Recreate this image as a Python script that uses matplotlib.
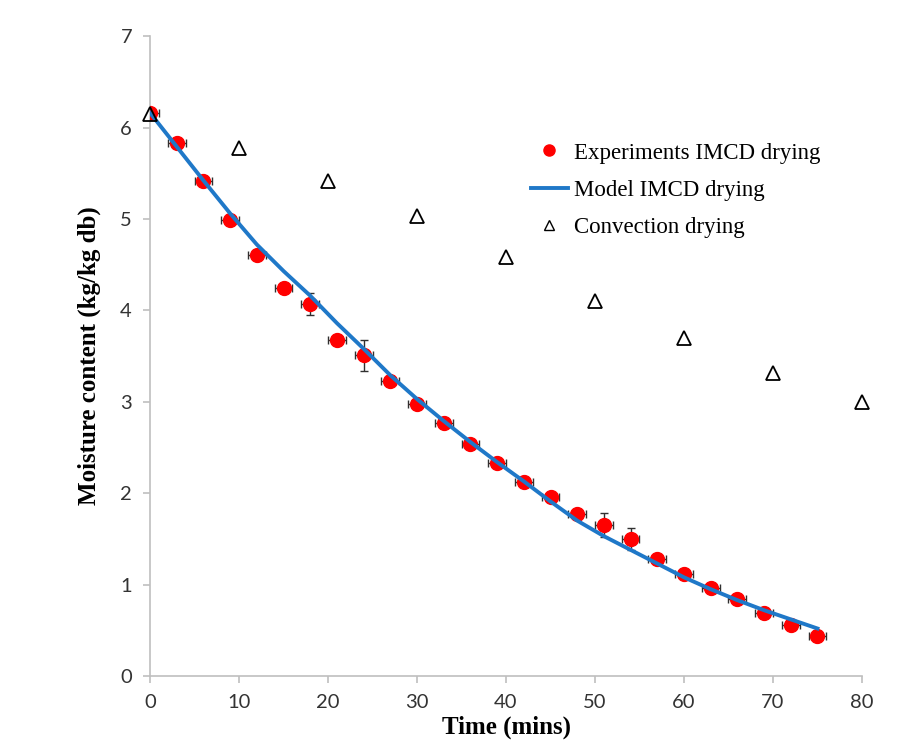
import numpy as np
import matplotlib
matplotlib.use("Agg")
import matplotlib.pyplot as plt
from matplotlib.lines import Line2D

# experiments (IMCD drying), every 3 min
t_exp = [0, 3, 6, 9, 12, 15, 18, 21, 24, 27, 30, 33, 36, 39, 42, 45, 48, 51, 54, 57, 60, 63, 66, 69, 72, 75]
mc_exp = [6.16, 5.83, 5.42, 4.99, 4.61, 4.25, 4.07, 3.68, 3.51, 3.23, 2.98, 2.77, 2.54, 2.33, 2.12, 1.96, 1.77,
          1.65, 1.50, 1.28, 1.12, 0.96, 0.84, 0.69, 0.56, 0.44]
yerr_exp = [0.03, 0.03, 0.03, 0.03, 0.03, 0.05, 0.12, 0.05, 0.17, 0.03, 0.03, 0.03, 0.04, 0.03, 0.03, 0.03, 0.03,
            0.13, 0.12, 0.03, 0.03, 0.03, 0.03, 0.03, 0.03, 0.03]
xerr_exp = [1.0] * len(t_exp)

# model curve
t_model = [0, 3, 6, 9, 12, 15, 18, 21, 24, 27, 30, 33, 36, 39, 42, 45, 48, 51, 54, 57, 60, 63, 66, 69, 72, 75]
mc_model = [6.16, 5.79, 5.42, 5.06, 4.72, 4.43, 4.16, 3.86, 3.58, 3.29, 3.03, 2.79, 2.56, 2.34, 2.13, 1.91, 1.70,
            1.53, 1.38, 1.23, 1.08, 0.95, 0.83, 0.72, 0.62, 0.52]

# convection drying
t_conv = [0, 10, 20, 30, 40, 50, 60, 70, 80]
mc_conv = [6.15, 5.78, 5.42, 5.03, 4.58, 4.10, 3.70, 3.32, 3.00]

RED = "#FF0000"
BLUE = "#1F78C8"

fig = plt.figure(figsize=(9.04, 7.52), dpi=100)
ax = fig.add_axes([0.166, 0.101, 0.7875, 0.851])

ax.errorbar(t_exp, mc_exp, yerr=yerr_exp, xerr=xerr_exp, fmt="o", color=RED, ms=10,
            ecolor="#303030", elinewidth=1.0, capsize=3, capthick=1.0, zorder=3)
ax.plot(t_model, mc_model, color=BLUE, lw=2.8, zorder=4)
ax.plot(t_conv, mc_conv, "^", mfc="none", mec="black", mew=1.3, ms=10, zorder=5, clip_on=False)

ax.set_xlim(0, 80)
ax.set_ylim(0, 7)
ax.set_xticks(range(0, 81, 10))
ax.set_yticks(range(0, 8))

for s in ["top", "right"]:
    ax.spines[s].set_visible(False)
for s in ["left", "bottom"]:
    ax.spines[s].set_color("#BFBFBF")
    ax.spines[s].set_linewidth(1.2)
ax.tick_params(direction="out", length=5, width=1.2, color="#BFBFBF", labelcolor="#333333",
               labelsize=14.5, pad=8)
for lab in ax.get_xticklabels() + ax.get_yticklabels():
    lab.set_fontfamily("Lato")

ax.set_xlabel("Time (mins)", family="Liberation Serif", fontweight="bold", fontsize=18, labelpad=3)
ax.set_ylabel("Moisture content (kg/kg db)", family="Liberation Serif", fontweight="bold", fontsize=18,
              labelpad=14)

handles = [
    Line2D([], [], ls="none", marker="o", color=RED, ms=8),
    Line2D([], [], color=BLUE, lw=2.8),
    Line2D([], [], ls="none", marker="^", mfc="none", mec="black", mew=1.0, ms=7),
]
labels = ["Experiments IMCD drying", "Model IMCD drying", "Convection drying"]
ax.legend(handles, labels, loc="upper left", bbox_to_anchor=(0.506, 0.866), frameon=False,
          prop={"family": "Liberation Serif", "size": 16.5},
          handlelength=1.6, handletextpad=0.3, labelspacing=0.7)

fig.savefig("out.png", dpi=100, facecolor="white")
